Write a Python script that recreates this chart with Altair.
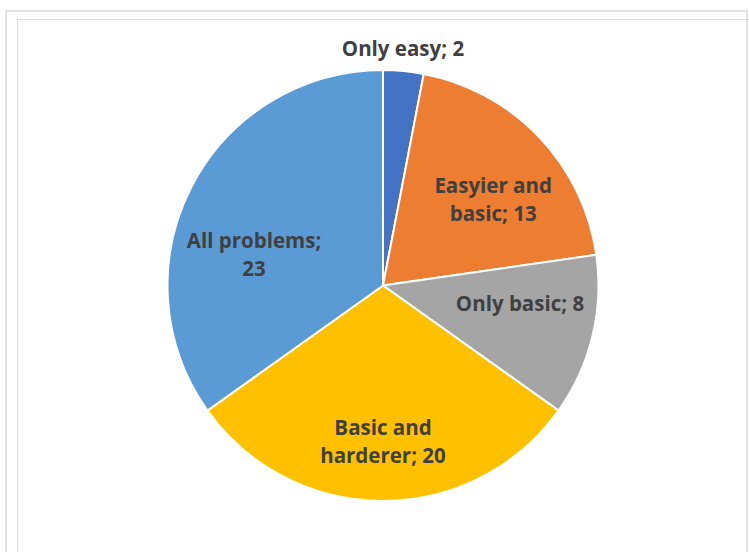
import math
import altair as alt
import pandas as pd

# ---- data ----
categories = ["Only easy", "Easyier and basic", "Only basic", "Basic and harderer", "All problems"]
values = [2, 13, 8, 20, 23]
label_texts = ["Only easy; 2", "Easyier and\nbasic; 13", "Only basic; 8", "Basic and\nharderer; 20", "All problems;\n23"]

# ---- style / layout ----
colors = ["#4472C4", "#ED7D31", "#A5A5A5", "#FFC000", "#5B9BD5"]
label_frac = [0.445, 0.587, 0.373, 0.5, 0.385]      # position along each slice
label_rfrac = [1.095, 0.644, 0.642, 0.731, 0.614]   # distance from center / radius
R = 215.5
LH = 28

total = sum(values)
rows = []
cum = 0
for i, (c, v) in enumerate(zip(categories, values)):
    t = (cum + label_frac[i] * v) / total * 2 * math.pi
    rows.append({"idx": i, "cat": c, "val": v, "label": label_texts[i],
                 "nl": label_texts[i].count("\n") + 1,
                 "lt": t, "lr": label_rfrac[i] * R})
    cum += v
df = pd.DataFrame(rows)

base = alt.Chart(df)

pie = base.mark_arc(outerRadius=R, stroke="white", strokeWidth=2).encode(
    theta=alt.Theta("val:Q", stack=True),
    color=alt.Color("cat:N", scale=alt.Scale(domain=categories, range=colors), legend=None),
    order=alt.Order("idx:Q"),
)

text_style = dict(font="Open Sans", fontSize=20.5, fontWeight="bold", color="#404040",
                  lineBreak="\n", lineHeight=LH, align="center", baseline="middle")
text_enc = dict(
    theta=alt.Theta("lt:Q", scale=None),
    radius=alt.Radius("lr:Q", scale=None),
    text="label:N",
)

labels1 = base.transform_filter("datum.nl == 1").mark_text(**text_style).encode(**text_enc)
labels2 = base.transform_filter("datum.nl == 2").mark_text(dy=-LH / 2, **text_style).encode(**text_enc)

border = alt.Chart(pd.DataFrame({"a": [0]})).mark_rect(
    fill=None, stroke="#d9d9d9", strokeWidth=1.5
).encode(
    x=alt.value(-11), x2=alt.value(730), y=alt.value(-8), y2=alt.value(700)
)

chart = alt.layer(border, pie, labels1, labels2).properties(
    width=732, height=533,
    autosize=alt.AutoSizeParams(type="none"),
    padding={"left": 17, "top": 19, "right": 0, "bottom": 0},
).resolve_scale(theta="independent").configure_view(stroke=None).configure(background="white")

chart.save("out.html", embed_options={"renderer": "svg", "actions": False})
